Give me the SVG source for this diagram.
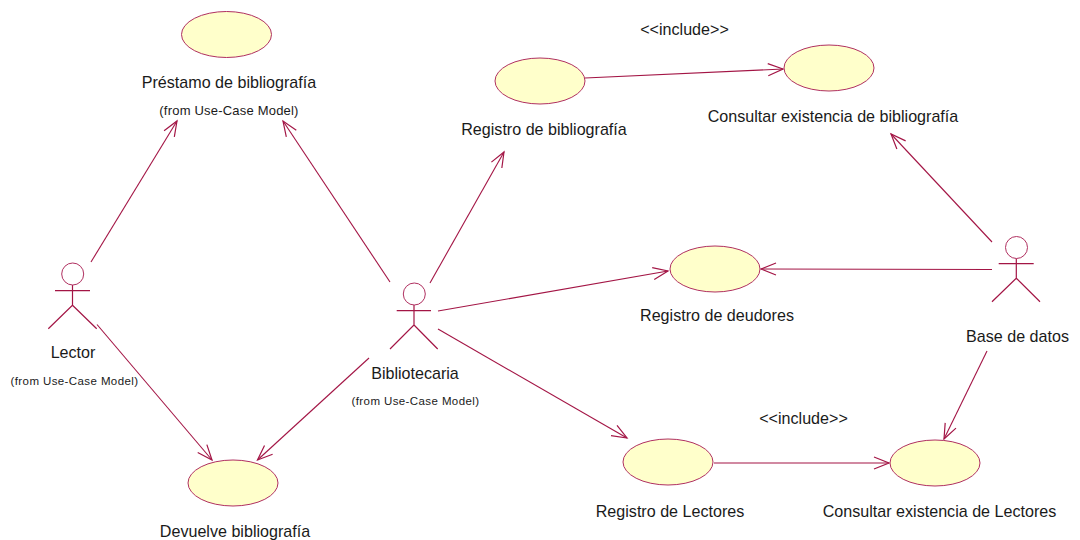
<svg xmlns="http://www.w3.org/2000/svg" width="1080" height="540" viewBox="0 0 1080 540">
<style>
text{font-family:"Liberation Sans",Arial,sans-serif;fill:#1a1a1a;text-anchor:middle}
.l{font-size:16.1px}
.s{font-size:11.5px;letter-spacing:.4px}
.p{font-size:13px;letter-spacing:.2px}
.u{fill:#ffffcb;stroke:#b03060;stroke-width:1}
.a{fill:none;stroke:#a31545;stroke-width:1.2}
.c{fill:none;stroke:#a31545;stroke-width:1.1;marker-end:url(#h)}
.h{fill:#fff;stroke:#b03060;stroke-width:1}
</style>
<defs>
<marker id="h" markerUnits="userSpaceOnUse" markerWidth="20" markerHeight="16" refX="16" refY="8" orient="auto" overflow="visible">
<path d="M1,2 L16,8 L1,14" fill="none" stroke="#a31545" stroke-width="1.2"/>
</marker>
</defs>
<rect width="1080" height="540" fill="#fff"/>
<g id="connectors">
<line class="c" x1="91" y1="262" x2="177" y2="121"/>
<line class="c" x1="390" y1="282" x2="283" y2="121"/>
<line class="c" x1="97" y1="324.5" x2="212" y2="460"/>
<line class="c" x1="369" y1="358" x2="257.5" y2="460"/>
<line class="c" x1="430" y1="283" x2="504" y2="152"/>
<line class="c" x1="438" y1="311" x2="668" y2="271"/>
<line class="c" x1="438" y1="329" x2="627" y2="438"/>
<line class="c" x1="714" y1="463" x2="889" y2="463"/>
<line class="c" x1="585" y1="78" x2="783" y2="69"/>
<line class="c" x1="992" y1="242" x2="891" y2="134"/>
<line class="c" x1="992" y1="269.5" x2="761" y2="269"/>
<line class="c" x1="987" y1="351" x2="944" y2="439"/>
</g>
<g id="uc-prestamo"><ellipse class="u" cx="226.5" cy="34.5" rx="45" ry="23"/><text class="l" x="229" y="87.5">Préstamo de bibliografía</text><text class="p" x="229" y="115">(from Use-Case Model)</text></g>
<g id="uc-devuelve"><ellipse class="u" cx="233" cy="483" rx="45" ry="23"/><text class="l" x="235" y="536.5">Devuelve bibliografía</text></g>
<g id="uc-registro-bib"><ellipse class="u" cx="540" cy="81" rx="45" ry="23"/><text class="l" x="544" y="134.5">Registro de bibliografía</text></g>
<g id="uc-consultar-bib"><ellipse class="u" cx="829" cy="68" rx="45" ry="23"/><text class="l" x="833" y="121.5">Consultar existencia de bibliografía</text></g>
<g id="uc-deudores"><ellipse class="u" cx="715" cy="269" rx="45" ry="23"/><text class="l" x="717" y="320.5">Registro de deudores</text></g>
<g id="uc-registro-lect"><ellipse class="u" cx="668" cy="462" rx="45" ry="23"/><text class="l" x="670" y="516.5">Registro de Lectores</text></g>
<g id="uc-consultar-lect"><ellipse class="u" cx="935" cy="463" rx="45" ry="23"/><text class="l" x="939.5" y="516.5">Consultar existencia de Lectores</text></g>
<g id="actor-lector">
<path class="a" d="M55,290.7H90M72.5,285V305.3L48.3,328.7M72.5,305.3L96.7,328.7"/><circle class="h" cx="72.7" cy="274" r="11"/>
<text class="l" x="73" y="357.5">Lector</text><text class="s" x="74.5" y="385">(from Use-Case Model)</text></g>
<g id="actor-bibliotecaria">
<path class="a" d="M396.7,310.7H431M414,305V325L390,349M414,325L437.7,349"/><circle class="h" cx="414.3" cy="294" r="11"/>
<text class="l" x="415" y="378.5">Bibliotecaria</text><text class="s" x="415.5" y="405">(from Use-Case Model)</text></g>
<g id="actor-base">
<path class="a" d="M998.7,263.7H1033.7M1016.3,258.3V278.3L992,301.7M1016.3,278.3L1040,301.7"/><circle class="h" cx="1016.5" cy="247.5" r="11"/>
<text class="l" x="1017.5" y="341.5">Base de datos</text></g>
<g id="labels"><text class="l" x="684.5" y="34.5">&lt;&lt;include&gt;&gt;</text><text class="l" x="803.5" y="423.5">&lt;&lt;include&gt;&gt;</text></g>
</svg>
